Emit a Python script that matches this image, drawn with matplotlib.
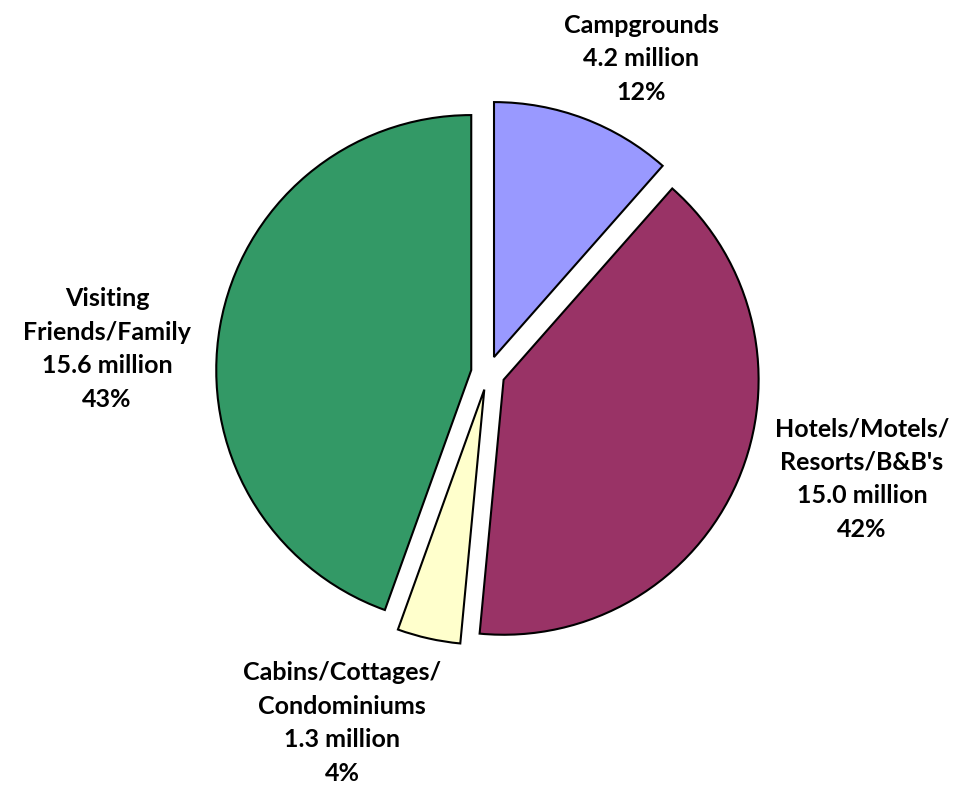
import matplotlib.pyplot as plt

# --- data ---
categories = ['Campgrounds', 'Hotels/Motels/\nResorts/B&B\'s', 'Cabins/Cottages/\nCondominiums', 'Visiting\nFriends/Family']
visitors_millions = [4.2, 15.0, 1.3, 15.6]
pct_labels = [12, 42, 4, 43]
# slice shares (%) as drawn in the picture
slice_shares = [11.5, 40.0, 4.0, 44.5]
colors = ['#9999FF', '#993366', '#FFFFCC', '#339966']

# label anchor positions (pixels, figure is 954x787)
label_pos = [(641, 59), (862, 479), (342, 723), (107, 349)]

plt.rcParams['font.family'] = ['Lato', 'DejaVu Sans']

fig = plt.figure(figsize=(9.54, 7.87), dpi=100)
ax = fig.add_axes([0, 0, 1, 1])

# y axis is inverted, so counterclock=True draws clockwise on screen
wedges, _ = ax.pie(slice_shares, colors=colors, center=(488, 373), radius=255,
                   startangle=-90, counterclock=True, explode=[17] * 4,
                   wedgeprops=dict(edgecolor='black', linewidth=1.5), frame=True)
ax.set_xlim(0, 954)
ax.set_ylim(787, 0)
ax.axis('off')

for name, val, pct, (x, y) in zip(categories, visitors_millions, pct_labels, label_pos):
    ax.text(x, y, f'{name}\n{val:.1f} million\n{pct}%', ha='center', va='center',
            fontsize=18, fontweight='bold', linespacing=1.55)

fig.savefig('out.png', dpi=100)
